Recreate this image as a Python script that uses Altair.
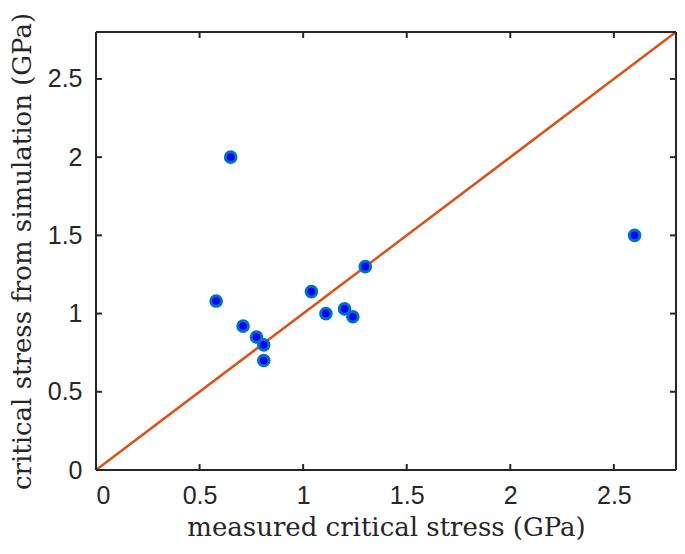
import altair as alt
import pandas as pd

measured = [0.65, 2.60, 0.58, 0.71, 0.775, 0.81, 0.81, 1.04, 1.11, 1.20, 1.24, 1.30]
simulated = [2.00, 1.50, 1.08, 0.92, 0.85, 0.80, 0.70, 1.14, 1.00, 1.03, 0.98, 1.30]
ref_line = [0.0, 2.8]
x_ticks = [0, 0.5, 1, 1.5, 2, 2.5]
y_ticks = [0, 0.5, 1, 1.5, 2, 2.5]

W, H = 580, 438
AX = "#262626"
pts = pd.DataFrame({"x": measured, "y": simulated})
line = pd.DataFrame({"x": ref_line, "y": ref_line})
xt = pd.DataFrame({"v": x_ticks})
yt = pd.DataFrame({"v": y_ticks})
one = pd.DataFrame({"k": [0]})

xs = alt.Scale(domain=[0, 2.8], nice=False, zero=False)
ys = alt.Scale(domain=[0, 2.8], nice=False, zero=False)

common = dict(grid=False, domain=False, ticks=False, format="~g",
              labelFontSize=25, labelFont="Liberation Sans", labelColor=AX,
              titleFont="DejaVu Serif", titleFontSize=26, titleFontWeight="normal",
              titleColor=AX, titleBaseline="middle")
xaxis = alt.Axis(values=x_ticks, title="measured critical stress (GPa)",
                 labelPadding=13, titleY=57, **common)
yaxis = alt.Axis(values=y_ticks, title="critical stress from simulation (GPa)",
                 labelPadding=14, titleX=-74, titleAngle=-90, **common)

diag = alt.Chart(line).mark_line(color="#D95319", strokeWidth=2.5).encode(
    x=alt.X("x:Q", scale=xs, axis=xaxis), y=alt.Y("y:Q", scale=ys, axis=yaxis))

points = alt.Chart(pts).mark_point(filled=False, fill="#0000FF", fillOpacity=1,
                                   stroke="#0072BD", strokeWidth=3, size=113, opacity=1).encode(
    x=alt.X("x:Q", scale=xs), y=alt.Y("y:Q", scale=ys))

rule = dict(color=AX, strokeWidth=2)
tb = alt.Chart(xt).mark_rule(**rule).encode(
    x=alt.X("v:Q", scale=xs), y=alt.value(H), y2=alt.value(H - 6))
tt = alt.Chart(xt).mark_rule(**rule).encode(
    x=alt.X("v:Q", scale=xs), y=alt.value(0), y2=alt.value(6))
tl = alt.Chart(yt).mark_rule(**rule).encode(
    y=alt.Y("v:Q", scale=ys), x=alt.value(0), x2=alt.value(6))
tr = alt.Chart(yt).mark_rule(**rule).encode(
    y=alt.Y("v:Q", scale=ys), x=alt.value(W), x2=alt.value(W - 6))

f_left = alt.Chart(one).mark_rule(**rule).encode(x=alt.value(0), y=alt.value(0), y2=alt.value(H))
f_right = alt.Chart(one).mark_rule(**rule).encode(x=alt.value(W), y=alt.value(0), y2=alt.value(H))
f_top = alt.Chart(one).mark_rule(**rule).encode(y=alt.value(0), x=alt.value(0), x2=alt.value(W))
f_bot = alt.Chart(one).mark_rule(**rule).encode(y=alt.value(H), x=alt.value(0), x2=alt.value(W))

chart = alt.layer(diag, tb, tt, tl, tr, f_left, f_right, f_top, f_bot, points).properties(
    width=W, height=H,
    autosize=alt.AutoSizeParams(type="none"),
    padding={"left": 88, "top": 24, "right": 1, "bottom": 72},
).configure_view(stroke=None).configure(background="white")

chart.save("out.html", embed_options={"renderer": "svg", "actions": False})
